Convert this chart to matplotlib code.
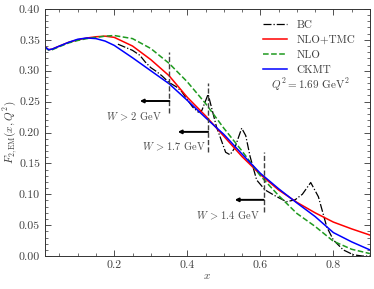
import matplotlib
matplotlib.use("Agg")
import matplotlib.pyplot as plt
from matplotlib.ticker import MultipleLocator

plt.rcParams['font.family'] = 'serif'
plt.rcParams['font.serif'] = ['cmr10']
plt.rcParams['mathtext.fontset'] = 'cm'
plt.rcParams['axes.formatter.use_mathtext'] = True
plt.rcParams['font.size'] = 8

# smooth curves
x_th = [0.01, 0.02, 0.03, 0.05, 0.075, 0.10, 0.125, 0.15, 0.175, 0.20, 0.25, 0.30,
        0.35, 0.40, 0.45, 0.50, 0.55, 0.60, 0.65, 0.70, 0.75, 0.80, 0.85, 0.90]
ckmt = [0.339, 0.334, 0.335, 0.340, 0.346, 0.351, 0.353, 0.352, 0.348, 0.341, 0.321, 0.300,
        0.279, 0.252, 0.224, 0.197, 0.165, 0.134, 0.109, 0.086, 0.064, 0.038, 0.023, 0.010]
nlo_tmc = [0.339, 0.334, 0.335, 0.340, 0.346, 0.350, 0.353, 0.355, 0.356, 0.354, 0.340, 0.318,
           0.292, 0.257, 0.227, 0.194, 0.161, 0.132, 0.107, 0.087, 0.070, 0.055, 0.044, 0.034]
nlo = [0.338, 0.3335, 0.334, 0.339, 0.345, 0.349, 0.352, 0.354, 0.356, 0.357, 0.352, 0.336,
       0.312, 0.282, 0.247, 0.207, 0.170, 0.130, 0.098, 0.069, 0.048, 0.024, 0.011, 0.004]

# BC resonance curve
x_bc = [0.21, 0.23, 0.25, 0.27, 0.285, 0.30, 0.315, 0.33, 0.35, 0.37, 0.385, 0.40, 0.415,
        0.43, 0.44, 0.457, 0.48, 0.505, 0.517, 0.53, 0.549, 0.56, 0.572, 0.59, 0.613, 0.645,
        0.672, 0.695, 0.715, 0.738, 0.759, 0.782, 0.80, 0.827, 0.855, 0.88, 0.90]
bc = [0.343, 0.338, 0.333, 0.325, 0.314, 0.305, 0.299, 0.292, 0.281, 0.274, 0.266, 0.253, 0.241,
      0.233, 0.236, 0.262, 0.209, 0.168, 0.164, 0.175, 0.207, 0.195, 0.161, 0.123, 0.107, 0.096,
      0.088, 0.091, 0.100, 0.119, 0.096, 0.047, 0.026, 0.010, 0.002, 0.000, 0.000]

# W cuts
w_labels = ['2', '1.7', '1.4']
x_cuts = [0.351, 0.457, 0.609]
cut_top = [0.331, 0.280, 0.169]
cut_bot = [0.232, 0.169, 0.072]
arrow_y = [0.251, 0.201, 0.091]
arrow_end = [0.270, 0.374, 0.530]
label_pos = [(0.254, 0.225), (0.363, 0.176), (0.511, 0.065)]

fig = plt.figure(figsize=(3.74, 2.89), dpi=100)
ax = fig.add_axes([0.12, 0.114, 0.869, 0.855])

ax.plot(x_bc, bc, color='black', ls='-.', lw=0.9, label='BC')
ax.plot(x_th, nlo_tmc, color='#ff0000', lw=1.1, label='NLO+TMC')
ax.plot(x_th, nlo, color='#1f9a1f', ls='--', lw=1.1, label='NLO')
ax.plot(x_th, ckmt, color='#0000ff', lw=1.1, label='CKMT')

for i in range(len(x_cuts)):
    ax.plot([x_cuts[i], x_cuts[i]], [cut_bot[i], cut_top[i]], color='0.25', ls='--', lw=1.0)
    ax.annotate('', xy=(arrow_end[i], arrow_y[i]), xytext=(x_cuts[i], arrow_y[i]),
                arrowprops=dict(arrowstyle='-|>', color='black', lw=1.4,
                                mutation_scale=5, shrinkA=0, shrinkB=0))
    ax.text(label_pos[i][0], label_pos[i][1], r'$W\,>\,' + w_labels[i] + r'$ GeV',
            ha='center', va='center', fontsize=7.5, color='0.3')

leg = ax.legend(loc='upper right', frameon=False, fontsize=8, handlelength=2.2,
                labelspacing=0.45, bbox_to_anchor=(0.978, 0.985), borderaxespad=0.3)
for t in leg.get_texts():
    t.set_color('0.25')
ax.text(0.737, 0.277, r'$Q^2 = 1.69$ GeV$^2$', ha='center', va='center',
        fontsize=8, color='0.25')

ax.set_xlim(0.01, 0.9)
ax.set_ylim(0.0, 0.4)
ax.xaxis.set_major_locator(MultipleLocator(0.2))
ax.xaxis.set_minor_locator(MultipleLocator(0.05))
ax.yaxis.set_major_locator(MultipleLocator(0.05))
ax.yaxis.set_minor_locator(MultipleLocator(0.01))
ax.yaxis.set_major_formatter(plt.FuncFormatter(lambda v, p: '%.2f' % v))
ax.xaxis.set_major_formatter(plt.FuncFormatter(lambda v, p: '%.1f' % v))
ax.tick_params(which='both', direction='in', top=True, right=True, colors='0.2',
               labelcolor='0.25', labelsize=8.5)
ax.tick_params(which='major', length=4, width=0.6)
ax.tick_params(which='minor', length=2, width=0.5)
for s in ax.spines.values():
    s.set_linewidth(0.7)
    s.set_color('0.2')

ax.set_xlabel(r'$x$', fontsize=8, color='0.25', labelpad=1)
ax.set_ylabel(r'$F_{2,\mathrm{EM}}(x,Q^2)$', fontsize=8, color='0.25', labelpad=0)

fig.savefig('out.png', dpi=100)
